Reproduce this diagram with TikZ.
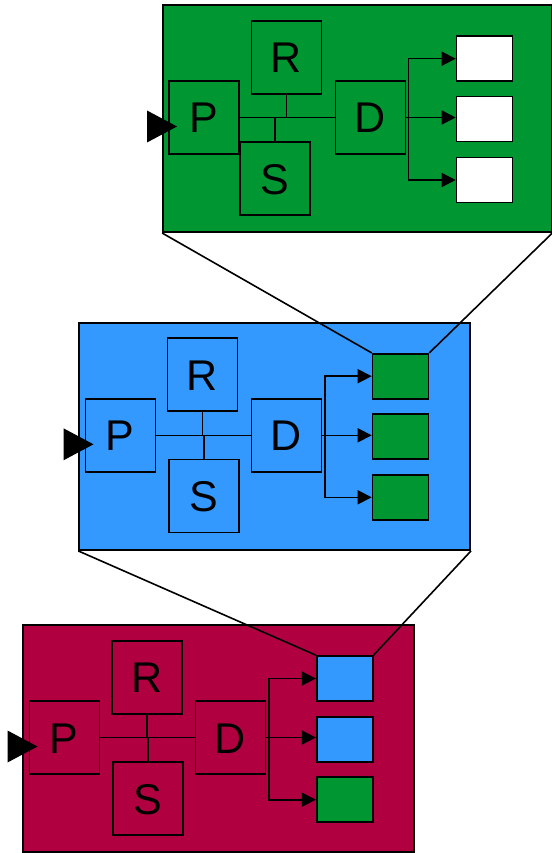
\documentclass[tikz,border=0pt]{standalone}
\usepackage{fontspec}
\setmainfont{Liberation Sans}
\usetikzlibrary{arrows.meta}

\definecolor{stagegreen}{RGB}{0,150,50}
\definecolor{stageblue}{RGB}{51,153,255}
\definecolor{stagered}{RGB}{176,0,64}

\tikzset{
  panel/.style={draw, line width=1.6pt, minimum width=391pt, minimum height=227pt, inner sep=0pt},
  unit/.style={draw, line width=1.6pt, minimum width=70pt, minimum height=73pt, inner sep=0pt,
    font=\fontsize{43}{43}\selectfont, text height=31pt, text depth=0pt},
  outbox/.style={draw, line width=1.6pt, minimum width=56pt, minimum height=45pt, inner sep=0pt},
  wire/.style={line width=1.6pt},
  feed/.style={wire, -{Triangle[length=14pt,width=14pt]}},
}

\begin{document}
\begin{tikzpicture}[x=1pt, y=-1pt]
\useasboundingbox (0,0) rectangle (551,853);

% Background panels
\node[panel, fill=stagegreen, minimum width=388.5pt] (G) at (357.25,118.75) {};
\node[panel, fill=stageblue] (B) at (274.65,436.65) {};
\node[panel, fill=stagered] (M) at (218.5,738.5) {};

% Top stage (green)
\node[unit] (Pg) at (203.8,117.5) {P};
\node[unit] (Rg) at (286.3,57.5) {R};
\node[unit] (Sg) at (274.7,178.7) {S};
\node[unit] (Dg) at (370.3,117.5) {D};
\node[outbox, fill=white] (g1) at (484.5,58.7) {};
\node[outbox, fill=white] (g2) at (484.5,119.2) {};
\node[outbox, fill=white] (g3) at (484.5,180) {};
\draw[wire] (Pg.east) -- (Dg.west);
\draw[wire] (Rg.south) -- (Rg.south |- Pg.east);
\draw[wire] (Sg.north) -- (Sg.north |- Pg.east);
\draw[feed] (Dg.east) -- ++(2.5,0) |- (g1.west);
\draw[feed] (Dg.east) -- (Dg.east -| g2.west);
\draw[feed] (Dg.east) -- ++(2.5,0) |- (g3.west);
\fill ([shift={(9,9)}]Pg.west) -- ++(-30,-16) -- ++(0,32) -- cycle;

% Middle stage (blue)
\node[unit] (Pb) at (120.3,435.3) {P};
\node[unit] (Rb) at (202.5,374.7) {R};
\node[unit] (Sb) at (204,495.8) {S};
\node[unit] (Db) at (286.5,435.3) {D};
\node[outbox, fill=stagegreen] (b1) at (400.5,376.2) {};
\node[outbox, fill=stagegreen] (b2) at (400.5,436.7) {};
\node[outbox, fill=stagegreen] (b3) at (400.5,497.3) {};
\draw[wire] (Pb.east) -- (Db.west);
\draw[wire] (Rb.south) -- (Rb.south |- Pb.east);
\draw[wire] (Sb.north) -- (Sb.north |- Pb.east);
\draw[feed] (Db.east) -- ++(2.5,0) |- (b1.west);
\draw[feed] (Db.east) -- (Db.east -| b2.west);
\draw[feed] (Db.east) -- ++(2.5,0) |- (b3.west);
\fill ([shift={(9,9)}]Pb.west) -- ++(-30,-16) -- ++(0,32) -- cycle;

% Bottom stage (red)
\node[unit] (Pm) at (64.3,737.5) {P};
\node[unit] (Rm) at (146.7,677.3) {R};
\node[unit] (Sm) at (148,798.5) {S};
\node[unit] (Dm) at (230.5,737.5) {D};
\node[outbox, fill=stageblue] (m1) at (344.7,678.5) {};
\node[outbox, fill=stageblue] (m2) at (344.7,739.2) {};
\node[outbox, fill=stagegreen] (m3) at (344.7,799.7) {};
\draw[wire] (Pm.east) -- (Dm.west);
\draw[wire] (Rm.south) -- (Rm.south |- Pm.east);
\draw[wire] (Sm.north) -- (Sm.north |- Pm.east);
\draw[feed] (Dm.east) -- ++(2.5,0) |- (m1.west);
\draw[feed] (Dm.east) -- (Dm.east -| m2.west);
\draw[feed] (Dm.east) -- ++(2.5,0) |- (m3.west);
\fill ([shift={(9,9)}]Pm.west) -- ++(-30,-16) -- ++(0,32) -- cycle;

% Zoom lines between stages
\draw[wire] (G.south west) -- (b1.north west);
\draw[wire] (G.south east) -- (b1.north east);
\draw[wire] (B.south west) -- (m1.north west);
\draw[wire] (B.south east) -- (m1.north east);

\end{tikzpicture}
\end{document}
